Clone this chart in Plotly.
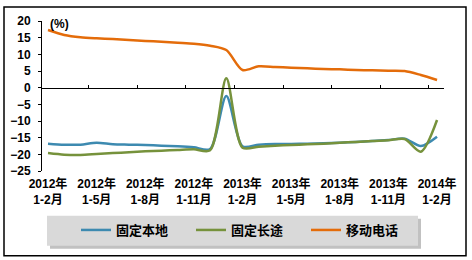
import plotly.graph_objects as go

# ---- data ----
categories = (
    ["2012年1-2月"] + [f"2012年1-{m}月" for m in range(3, 13)]
    + ["2013年1月", "2013年1-2月"] + [f"2013年1-{m}月" for m in range(3, 13)]
    + ["2014年1月", "2014年1-2月"]
)
tick_labels = ["2012年<br>1-2月", "2012年<br>1-5月", "2012年<br>1-8月", "2012年<br>1-11月",
               "2013年<br>1-2月", "2013年<br>1-5月", "2013年<br>1-8月", "2013年<br>1-11月",
               "2014年<br>1-2月"]

fixed_local = [-16.8, -17.1, -17.1, -16.5, -17.0, -17.1, -17.2, -17.4, -17.6, -17.9, -18.4,
               -2.5, -17.6, -17.1, -16.9, -16.9, -16.8, -16.7, -16.5, -16.3, -16.0, -15.7,
               -15.3, -17.5, -14.7]
fixed_long = [-19.6, -20.1, -20.2, -19.9, -19.6, -19.4, -19.1, -18.9, -18.7, -18.5, -18.8,
              2.8, -18.0, -17.7, -17.4, -17.2, -17.0, -16.8, -16.5, -16.3, -16.0, -15.8,
              -15.4, -19.2, -9.7]
mobile = [17.3, 15.8, 15.1, 14.8, 14.6, 14.3, 14.0, 13.8, 13.5, 13.2, 12.6,
          11.3, 5.3, 6.4, 6.2, 6.0, 5.8, 5.6, 5.5, 5.3, 5.2, 5.1,
          5.0, 3.8, 2.3]

series_names = ["固定本地", "固定长途", "移动电话"]
series_colors = ["#3d8ab0", "#76923c", "#e46c0a"]

FONT = "Liberation Sans, Arial, Noto Sans CJK SC"

fig = go.Figure()
for name, vals, col in zip(series_names, [fixed_local, fixed_long, mobile], series_colors):
    fig.add_trace(go.Scatter(x=categories, y=vals, mode="lines", name=name,
                             line=dict(color=col, width=2.5, shape="spline", smoothing=0.8)))
# empty helper trace so the zero-line tick axis (x2) is drawn
fig.add_trace(go.Scatter(x=[], y=[], xaxis="x2", yaxis="y", showlegend=False,
                         hoverinfo="skip", mode="lines"))

xr = [-0.37, 24.43]
fig.update_layout(
    width=472, height=260,
    margin=dict(l=42, r=28, t=21, b=89, autoexpand=False),
    paper_bgcolor="white", plot_bgcolor="white",
    font=dict(family=FONT, size=12, color="black"),
    showlegend=True,
    legend=dict(orientation="h", xref="container", yref="container",
                x=76 / 472, xanchor="left", y=1 - 230 / 260, yanchor="middle",
                bgcolor="rgba(0,0,0,0)", font=dict(size=13, family=FONT, weight="bold"),
                itemwidth=30, entrywidth=70),
    xaxis=dict(type="category", range=xr, tickmode="array",
               tickvals=categories[::3], ticktext=tick_labels, automargin=False,
               ticks="", showline=False, showgrid=False, zeroline=False,
               tickfont=dict(size=12, weight="bold"), ticklabelstandoff=4),
    xaxis2=dict(overlaying="x", anchor="free", position=25 / 45, range=xr, type="linear",
                tickmode="array", tickvals=[i + 2.5 for i in range(0, 24, 3)],
                ticks="inside", ticklen=3, tickcolor="black", showticklabels=False,
                automargin=False,
                showline=True, linecolor="black", linewidth=1, showgrid=False, zeroline=False),
    yaxis=dict(range=[-25, 20], tickmode="array", tickvals=list(range(-25, 21, 5)),
               showline=True, linecolor="black", linewidth=1, ticks="outside", ticklen=3,
               tickcolor="black", showgrid=False, zeroline=False, automargin=False,
               tickfont=dict(size=12, weight="bold"), ticklabelstandoff=5),
)

# legend box with shadow, outer border
fig.add_shape(type="rect", xref="paper", yref="paper", x0=(50 - 42) / 402, x1=(421 - 42) / 402,
              y0=(170.5 - 248) / 149.5, y1=(170.5 - 218) / 149.5,
              fillcolor="#a6a6a6", line=dict(width=0), opacity=0.7)
fig.add_shape(type="rect", xref="paper", yref="paper", x0=(47 - 42) / 402, x1=(418 - 42) / 402,
              y0=(170.5 - 245) / 149.5, y1=(170.5 - 215) / 149.5,
              fillcolor="#d9d9d9", line=dict(width=0))
fig.add_shape(type="rect", xref="paper", yref="paper", x0=(4 - 42) / 402, x1=(466 - 42) / 402,
              y0=(170.5 - 255) / 149.5, y1=(170.5 - 7) / 149.5,
              fillcolor="rgba(0,0,0,0)", line=dict(color="black", width=1.5))

fig.add_annotation(text="(%)", xref="paper", yref="paper", x=(48 - 42) / 402, xanchor="left",
                   y=(170.5 - 24) / 149.5, yanchor="middle", showarrow=False,
                   font=dict(size=12, weight="bold"))

fig.write_html("out.html", config={"displayModeBar": False},
               post_script="document.body.style.margin='0px';")
